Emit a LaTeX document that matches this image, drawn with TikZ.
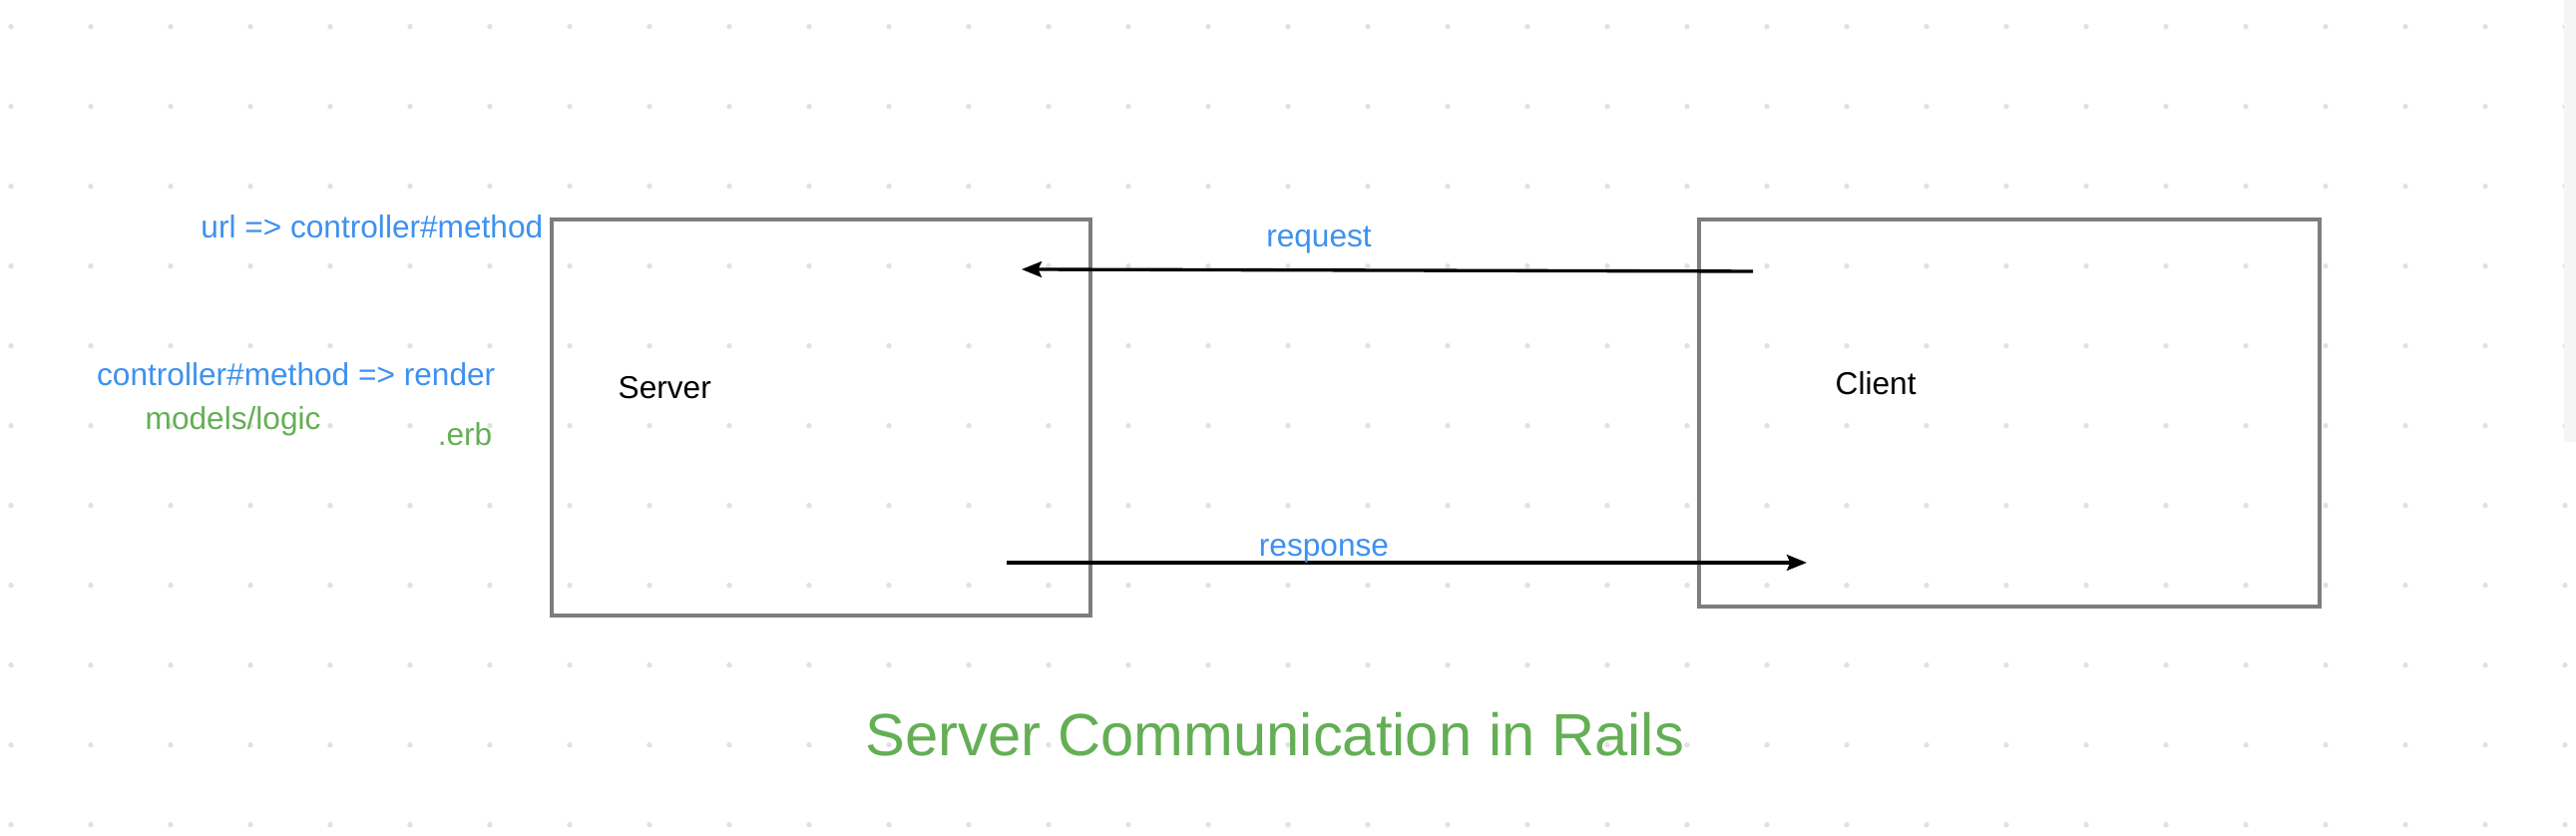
\documentclass[tikz,border=0pt]{standalone}
\usepackage{fontspec}
\setmainfont{Liberation Sans}
\usepackage{tikz}
\usetikzlibrary{arrows.meta, positioning, calc}
\definecolor{railsblue}{RGB}{61,145,240}
\definecolor{railsgreen}{RGB}{100,175,85}
\definecolor{boxgray}{RGB}{125,125,125}
\definecolor{dotgray}{RGB}{225,225,225}
\definecolor{stripgray}{RGB}{245,245,245}

\begin{document}
\begin{tikzpicture}[
    box/.style={draw=boxgray, line width=0.9pt, inner sep=0pt},
    txt/.style={inner sep=0pt, font=\fontsize{9}{11}\selectfont},
    note/.style={txt, color=railsblue},
    part/.style={txt, color=railsgreen},
    arr/.style={-{Stealth[length=5.7pt, width=4.5pt, inset=1pt]}, line width=0.95pt},
  ]
  \useasboundingbox (0,0) rectangle (25.82,8.38);
  \fill[white] (0,0) rectangle (25.82,8.38);
  % dotted canvas
  \foreach \i in {0,...,32}
    \foreach \j in {0,...,10}
      \fill[dotgray] (0.11+0.8*\i, 8.113-0.8*\j) circle (0.027);
  \fill[stripgray] (25.70,3.95) rectangle (25.82,8.38);

  \node[box, minimum width=5.40cm, minimum height=3.97cm] (server) at (8.23,4.195) {};
  \node[box, minimum width=6.22cm, minimum height=3.88cm] (client) at (20.14,4.24) {};
  \node[txt, anchor=base west] (serverlbl) at (6.19,4.38) {Server};
  \node[txt, anchor=base west] (clientlbl) at (18.39,4.42) {Client};

  \node[note, anchor=base east] (route) at (5.45,5.99) {url => controller\#method};
  \node[note, anchor=base east] (action) at (4.97,4.51) {controller\#method => render};
  \node[part, anchor=base west] (logic) at (1.45,4.07) {models/logic};
  \node[part, anchor=base east] (erb) at (4.94,3.91) {.erb};

  \coordinate (reqfrom) at (17.57,5.66);
  \coordinate (reqto) at (10.24,5.68);
  \coordinate (resfrom) at (10.09,2.74);
  \coordinate (resto) at (18.11,2.74);
  \draw[arr] (reqfrom) -- (reqto);
  \draw[arr] (resfrom) -- (resto);
  \node[note, anchor=base] (reqlbl) at (13.22,5.90) {request};
  \node[note, anchor=base] (reslbl) at (13.27,2.80) {response};

  \node[inner sep=0pt, anchor=base, color=railsgreen, font=\fontsize{17}{20}\selectfont] (title) at (12.78,0.80) {Server Communication in Rails};
\end{tikzpicture}
\end{document}
